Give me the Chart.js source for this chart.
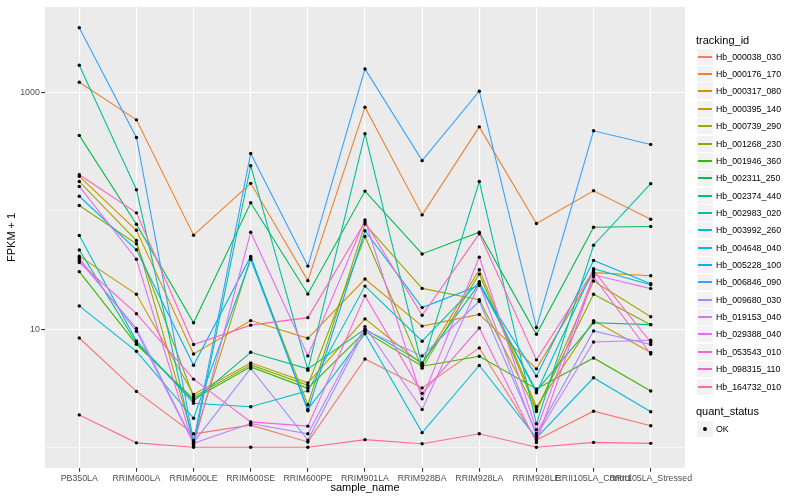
<!DOCTYPE html>
<html><head><meta charset="utf-8">
<script src="https://cdn.jsdelivr.net/npm/chart.js@4.4.1/dist/chart.umd.min.js"></script>
<style>
html,body{margin:0;padding:0;background:#fff;overflow:hidden}
#wrap{position:relative;width:800px;height:500px}
#c{position:absolute;left:0;top:0}
.lg{position:absolute;font-family:"Liberation Sans",Arial,sans-serif;color:#000;white-space:nowrap}
</style></head><body>
<div id="wrap"><canvas id="c" width="800" height="500"></canvas><div id="legend"></div></div>
<script>
const categories = ["PB350LA","RRIM600LA","RRIM600LE","RRIM600SE","RRIM600PE","RRIM901LA","RRIM928BA","RRIM928LA","RRIM928LE","RRII105LA_Control","RRII105LA_Stressed"];
const yTickValues = [10, 1000];
const yMinorValues = [1, 100];

const Hb_000038_030 = [8.41, 2.97, 1.30, 1.54, 1.11, 5.59, 3.18, 6.93, 1.15, 2.02, 1.52];
const Hb_000176_170 = [1227, 589, 62.3, 171, 25.7, 754, 92.5, 514, 78.1, 148, 85.0];
const Hb_000317_080 = [196, 68.6, 6.16, 11.8, 8.36, 26.5, 10.6, 13.3, 4.61, 30.0, 28.3];
const Hb_000395_140 = [41.4, 19.7, 2.80, 5.18, 3.51, 12.2, 5.05, 31.8, 2.20, 11.8, 6.33];
const Hb_000739_290 = [177, 56.1, 1.15, 40.1, 2.29, 77.4, 22.1, 17.7, 2.01, 25.5, 12.7];
const Hb_001268_230 = [111, 52.7, 2.67, 4.98, 3.34, 60.7, 4.67, 29.2, 2.09, 19.7, 10.9];
const Hb_001946_360 = [30.6, 7.44, 2.56, 4.79, 3.15, 9.52, 4.85, 5.89, 3.12, 5.70, 2.99];
const Hb_002311_250 = [435, 77.1, 11.3, 117, 19.8, 147, 43.2, 66.0, 9.04, 72.7, 73.7];
const Hb_002374_440 = [46.7, 7.63, 2.46, 6.37, 4.61, 10.0, 5.18, 24.2, 3.00, 11.3, 10.9];
const Hb_002983_020 = [1707, 151, 1.05, 241, 4.49, 449, 4.85, 177, 1.58, 51.2, 170];
const Hb_003992_260 = [61.9, 7.94, 2.36, 2.20, 3.00, 23.1, 7.89, 25.2, 2.89, 32.4, 23.7];
const Hb_004648_040 = [15.7, 6.49, 1.76, 39.0, 2.09, 9.13, 1.33, 4.92, 1.20, 3.87, 2.00];
const Hb_005228_100 = [133, 46.9, 4.95, 41.2, 2.04, 67.9, 15.2, 23.4, 4.00, 38.1, 24.2];
const Hb_006846_090 = [3543, 418, 1.12, 306, 34.1, 1588, 266, 1030, 10.3, 476, 365];
const Hb_009680_030 = [38.1, 10.1, 1.10, 4.64, 1.15, 9.77, 5.93, 17.2, 1.31, 9.64, 7.40];
const Hb_019153_040 = [39.8, 9.58, 1.08, 1.59, 1.30, 10.5, 2.09, 24.2, 1.25, 7.78, 8.04];
const Hb_029388_040 = [161, 39.0, 1.03, 66.0, 5.93, 84.0, 2.57, 40.6, 1.41, 28.8, 22.0];
const Hb_053543_010 = [36.6, 13.5, 3.77, 1.64, 1.51, 19.1, 2.86, 10.2, 1.10, 27.7, 6.16];
const Hb_098315_110 = [202, 96.2, 7.40, 10.8, 12.5, 80.8, 13.1, 63.9, 5.49, 31.2, 7.74];
const Hb_164732_010 = [1.88, 1.09, 1.00, 1.00, 1.00, 1.16, 1.07, 1.30, 1.00, 1.10, 1.08];

const trackingIds = ["Hb_000038_030","Hb_000176_170","Hb_000317_080","Hb_000395_140","Hb_000739_290","Hb_001268_230","Hb_001946_360","Hb_002311_250","Hb_002374_440","Hb_002983_020","Hb_003992_260","Hb_004648_040","Hb_005228_100","Hb_006846_090","Hb_009680_030","Hb_019153_040","Hb_029388_040","Hb_053543_010","Hb_098315_110","Hb_164732_010"];
const seriesValues = [Hb_000038_030,Hb_000176_170,Hb_000317_080,Hb_000395_140,Hb_000739_290,Hb_001268_230,Hb_001946_360,Hb_002311_250,Hb_002374_440,Hb_002983_020,Hb_003992_260,Hb_004648_040,Hb_005228_100,Hb_006846_090,Hb_009680_030,Hb_019153_040,Hb_029388_040,Hb_053543_010,Hb_098315_110,Hb_164732_010];
const seriesColors = ["#F8766D","#EA8331","#D89000","#C09B00","#A3A500","#7CAE00","#39B600","#00BB4E","#00BF7D","#00C1A3","#00BFC4","#00BAE0","#00B0F6","#35A2FF","#9590FF","#C77CFF","#E76BF3","#FA62DB","#FF62BC","#FF6C91"];
const quantStatus = ["OK"];

const FONT = '"Liberation Sans", Arial, Helvetica, sans-serif';
Chart.defaults.font.family = FONT;

const bgPlugin = {
  id: 'panelBg',
  beforeDraw(chart) {
    const {ctx, chartArea: a} = chart;
    ctx.save();
    ctx.fillStyle = '#FFFFFF';
    ctx.fillRect(0, 0, chart.width, chart.height);
    ctx.fillStyle = '#EBEBEB';
    ctx.fillRect(a.left, a.top, a.right - a.left, a.bottom - a.top);
    ctx.restore();
  }
};

const toPts = vals => vals.map((v, j) => ({x: j, y: v}));
const lineSets = seriesValues.map((vals, i) => ({
  label: trackingIds[i], data: toPts(vals), borderColor: seriesColors[i],
  backgroundColor: seriesColors[i], borderWidth: 1.1, pointRadius: 0,
  fill: false, tension: 0, order: 100 - i
}));
const pointSets = seriesValues.map((vals, i) => ({
  label: 'pt_' + trackingIds[i], data: toPts(vals), showLine: false,
  pointRadius: 1.7, pointHoverRadius: 1.7, pointBackgroundColor: '#000000',
  pointBorderWidth: 0, borderColor: '#000000', order: 0
}));

new Chart(document.getElementById('c'), {
  type: 'line',
  data: {datasets: [...lineSets, ...pointSets]},
  plugins: [bgPlugin],
  options: {
    responsive: false, animation: false, devicePixelRatio: 1,
    layout: {padding: {left: 0, right: 115, top: 5.7, bottom: 0}},
    plugins: {legend: {display: false}, tooltip: {enabled: false}},
    scales: {
      x: {
        type: 'linear', min: -0.6, max: 10.6,
        afterBuildTicks: s => { s.ticks = categories.map((c, i) => ({value: i})); },
        afterFit: s => { s.height = 32; s.paddingLeft = 0; s.paddingRight = 0; },
        ticks: {autoSkip: false, maxRotation: 0, minRotation: 0, padding: 1.5, color: '#4D4D4D',
                font: {size: 8.8}, callback: v => categories[v] !== undefined ? categories[v] : ''},
        grid: {color: '#FFFFFF', lineWidth: 1.1, tickColor: '#333333', tickLength: 3.7, drawTicks: true},
        border: {display: false},
        title: {display: true, text: 'sample_name', color: '#000000', font: {size: 11}, padding: {top: 0, bottom: 5}}
      },
      y: {
        type: 'logarithmic', min: 0.668, max: 5330,
        afterBuildTicks: s => { s.ticks = [...yMinorValues, ...yTickValues].sort((a, b) => a - b).map(v => ({value: v})); },
        afterFit: s => { s.width = 45; },
        ticks: {autoSkip: false, padding: 1.5, color: '#4D4D4D', font: {size: 8.8},
                callback: v => yTickValues.includes(v) ? String(v) : ''},
        grid: {color: '#FFFFFF',
               lineWidth: c => (c.tick && yTickValues.includes(c.tick.value)) ? 1.1 : 0.55,
               tickColor: c => (c.tick && yTickValues.includes(c.tick.value)) ? '#333333' : 'rgba(0,0,0,0)',
               tickLength: 3.7},
        border: {display: false},
        title: {display: true, text: 'FPKM + 1', color: '#000000', font: {size: 11}, padding: {top: 5, bottom: 0}}
      }
    }
  }
});

// legend (ggplot-style)
const lg = document.getElementById('legend');
function el(style, text) {
  const d = document.createElement('div');
  d.className = 'lg';
  Object.assign(d.style, style);
  if (text !== undefined) d.textContent = text;
  lg.appendChild(d);
  return d;
}
el({left: '696px', top: '35px', fontSize: '11px', lineHeight: '11px'}, 'tracking_id');
trackingIds.forEach((id, i) => {
  const cy = Math.round(56.7 + 17.36 * i);
  el({left: '697px', top: (cy - 8) + 'px', width: '16px', height: '16px', background: '#F2F2F2'});
  el({left: '698px', top: (cy - 1) + 'px', width: '14px', height: '2px', background: seriesColors[i]});
  el({left: '716px', top: (cy - 5) + 'px', fontSize: '8.8px', lineHeight: '11px'}, id);
});
el({left: '696px', top: '406px', fontSize: '11px', lineHeight: '11px'}, 'quant_status');
quantStatus.forEach((q, i) => {
  const cy = Math.round(429.3 + 17.36 * i);
  el({left: '697px', top: (cy - 8) + 'px', width: '16px', height: '16px', background: '#F2F2F2'});
  el({left: '703px', top: (cy - 2) + 'px', width: '4px', height: '4px', background: '#000', borderRadius: '50%'});
  el({left: '716px', top: (cy - 5) + 'px', fontSize: '8.8px', lineHeight: '11px'}, q);
});
</script>
</body></html>
